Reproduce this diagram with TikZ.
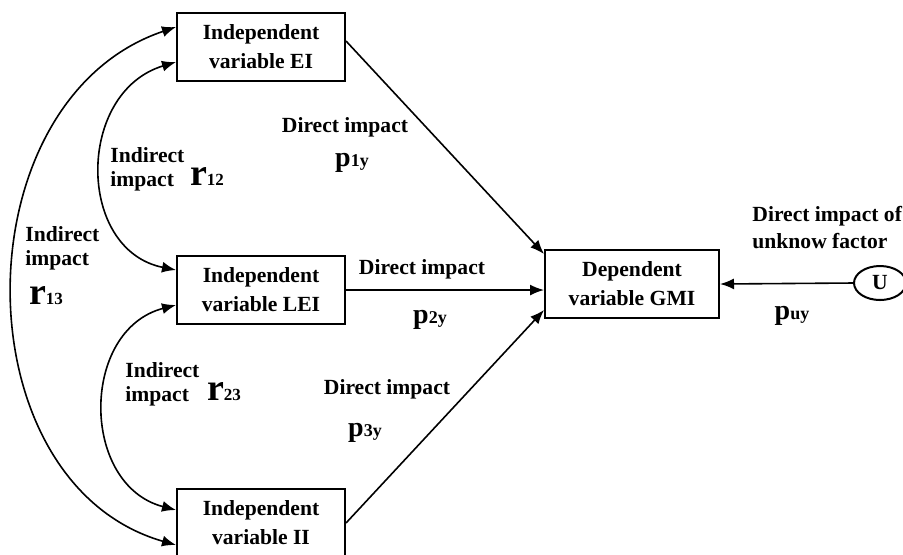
\documentclass[tikz,border=0pt]{standalone}
\usepackage{fontspec}
\setmainfont{Liberation Serif}
\usetikzlibrary{arrows.meta,shapes.geometric}

\newcommand{\rco}[1]{{\fontsize{19}{19}\selectfont r}{\fontsize{8.5}{8.5}\selectfont #1}}
\newcommand{\pco}[1]{{\fontsize{14}{14}\selectfont p}{\fontsize{9}{9}\selectfont #1}}

\tikzset{
  varbox/.style={draw, line width=1pt, minimum width=84pt, minimum height=34pt,
    align=center, font=\bfseries\fontsize{10.8}{14.5}\selectfont},
  lbl/.style={align=left, font=\bfseries\fontsize{10.8}{12}\selectfont, inner sep=0pt},
  coef/.style={font=\bfseries, inner sep=0pt},
  link/.style={line width=0.8pt, -{Latex[length=7pt,width=5.5pt]}},
  both/.style={line width=0.8pt, {Latex[length=7pt,width=5.5pt]}-{Latex[length=7pt,width=5.5pt]}}
}

\begin{document}
\begin{tikzpicture}[x=0.5pt, y=-0.5pt]
  \useasboundingbox (0,0) rectangle (903,554);
  % boxes
  \node[varbox] (EI) at (261,47) {Independent\\variable EI};
  \node[varbox] (LEI) at (261,290) {Independent\\variable LEI};
  \node[varbox] (II) at (261,523) {Independent\\variable II};
  \node[varbox, minimum width=87pt] (GMI) at (632,284) {Dependent\\variable GMI};
  \node[draw, ellipse, line width=1pt, minimum width=26pt, minimum height=17pt,
    inner sep=0pt, font=\bfseries\fontsize{10.8}{12}\selectfont] (U) at (880,283) {U};
  % labels
  \node[lbl] (d1) at (345,127) {Direct impact};
  \node[coef] (p1) at (352,163) {\pco{1y}};
  \node[lbl] (d2) at (422,269) {Direct impact};
  \node[coef] (p2) at (430,320) {\pco{2y}};
  \node[lbl] (d3) at (387,389) {Direct impact};
  \node[coef] (p3) at (365,433) {\pco{3y}};
  \node[lbl, anchor=west] (i12) at (110,169) {Indirect\\impact};
  \node[coef] (r12) at (207,176) {\rco{12}};
  \node[lbl, anchor=west] (i13) at (25,248) {Indirect\\impact};
  \node[coef] (r13) at (46,296) {\rco{13}};
  \node[lbl, anchor=west] (i23) at (125,384) {Indirect\\impact};
  \node[coef] (r23) at (224,392) {\rco{23}};
  \node[lbl, anchor=west, font=\bfseries\fontsize{10.8}{13.5}\selectfont] (du) at (752,228) {Direct impact of\\unknow factor};
  \node[coef] (pu) at (792,316) {\pco{uy}};
  % direct paths
  \draw[link] ([yshift=3pt]EI.east) -- ([yshift=15pt]GMI.west);
  \draw[link] (LEI.east) -- (LEI.east -| GMI.west);
  \draw[link] (II.east) -- ([yshift=-13pt]GMI.west);
  \draw[link] (U.west) -- (GMI.east);
  % correlations
  \draw[both] ([yshift=-7.5pt]EI.west) .. controls +(-100,30) and +(-100,-20) .. ([yshift=10pt]LEI.west);
  \draw[both] ([yshift=10pt]EI.west) .. controls +(-217,73) and +(-217,-62) .. ([yshift=-11pt]II.west);
  \draw[both] ([yshift=-7.5pt]LEI.west) .. controls +(-96,25) and +(-96,-25) .. ([yshift=6.5pt]II.west);
\end{tikzpicture}
\end{document}
